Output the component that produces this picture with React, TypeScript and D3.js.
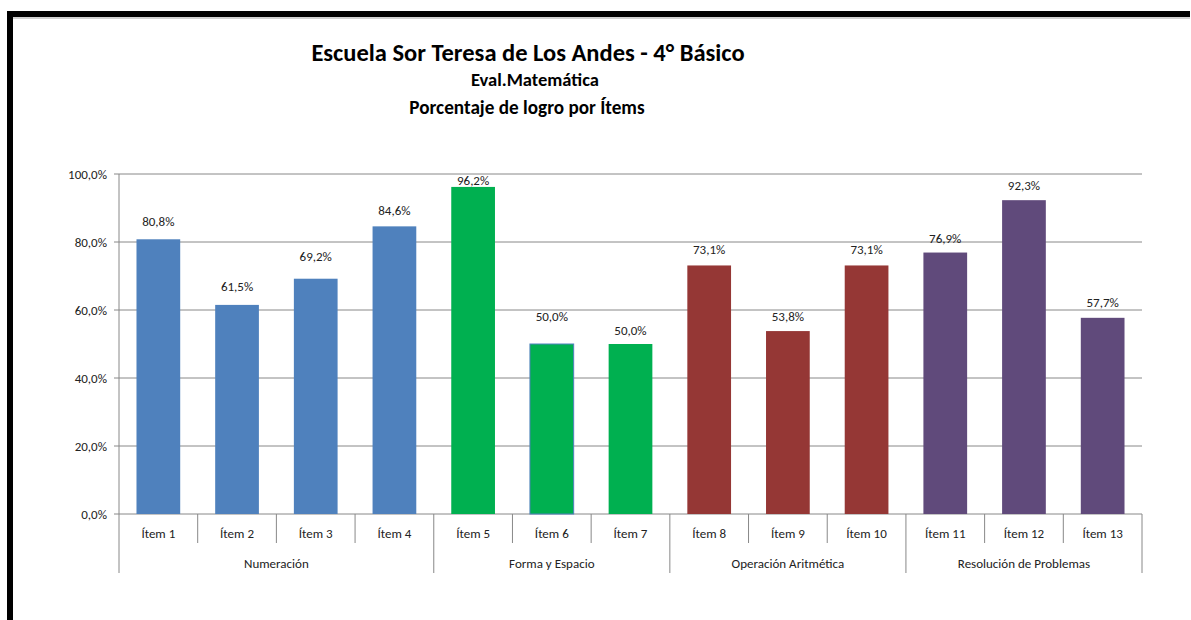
import React from "react";
import * as d3 from "d3";

const ITEMS = ["Ítem 1", "Ítem 2", "Ítem 3", "Ítem 4", "Ítem 5", "Ítem 6", "Ítem 7", "Ítem 8", "Ítem 9", "Ítem 10", "Ítem 11", "Ítem 12", "Ítem 13"];
const VALUES = [80.8, 61.5, 69.2, 84.6, 96.2, 50.0, 50.0, 73.1, 53.8, 73.1, 76.9, 92.3, 57.7];
const GROUPS = ["Numeración", "Forma y Espacio", "Operación Aritmética", "Resolución de Problemas"];
const GROUP_SIZES = [4, 3, 3, 3];
const Y_TICKS = [0, 20, 40, 60, 80, 100];

// colour per group, as in the source workbook
const GROUP_COLORS = ["#4F81BD", "#00B050", "#953735", "#604A7B"];
// labels were nudged by hand in the original, distance from bar top (px)
const LABEL_LIFT = [18, 18, 22, 16, 6, 28, 14, 16, 15, 16, 14, 15, 15];

const FONT = "Carlito, 'Open Sans', sans-serif";
const W = 1191;
const H = 620;
const margin = { top: 174, right: 49, bottom: 106, left: 119 };

const fmt = (v: number) => d3.format(".1f")(v).replace(".", ",") + "%";

export default function App() {
  const x = d3.scaleBand().domain(ITEMS).range([margin.left, W - margin.right]).padding(0);
  const y = d3.scaleLinear().domain([0, 100]).range([H - margin.bottom, margin.top]);
  const step = x.step();
  const barW = step / 1.8;
  const y0 = y(0);

  // group index for each item
  const groupOf: number[] = [];
  GROUP_SIZES.forEach((n, g) => d3.range(n).forEach(() => groupOf.push(g)));
  const groupStarts = d3.cumsum([0, ...GROUP_SIZES]);

  return (
    <svg width={W} height={H} style={{ position: "absolute", left: 0, top: 0, background: "#fff" }} fontFamily={FONT}>
      {/* frame */}
      <rect x={7} y={17} width={1183} height={2} fill="#d0d0d0" />
      <rect x={7} y={11} width={1183} height={6} fill="#000" />
      <rect x={7} y={11} width={6} height={H - 11} fill="#000" />

      {/* titles */}
      <g textAnchor="middle" fontWeight="bold" fill="#000">
        <text x={528} y={52} dy="0.35em" fontSize={24.5}>Escuela Sor Teresa de Los Andes - 4° Básico</text>
        <text x={535} y={80} dy="0.35em" fontSize={18.5}>Eval.Matemática</text>
        <text x={527} y={107} dy="0.35em" fontSize={19.2}>Porcentaje de logro por Ítems</text>
      </g>

      {/* grid + y axis */}
      {Y_TICKS.map((t) => (
        <g key={t}>
          <line x1={margin.left - 5} x2={W - margin.right} y1={y(t)} y2={y(t)} stroke="#888" strokeWidth={1} />
          <text x={107} y={y(t)} dy="0.35em" textAnchor="end" fontSize={13} fill="#222">
            {fmt(t)}
          </text>
        </g>
      ))}
      <line x1={margin.left} x2={margin.left} y1={margin.top} y2={y0} stroke="#888" />

      {/* bars */}
      {ITEMS.map((it, i) => {
        const cx = (x(it) as number) + step / 2;
        const v = VALUES[i];
        return (
          <g key={it}>
            <rect
              x={cx - barW / 2}
              y={y(v)}
              width={barW}
              height={y0 - y(v)}
              fill={GROUP_COLORS[groupOf[i]]}
              stroke={i === 5 ? "#4F81BD" : "none"}
              strokeWidth={1}
            />
            <text x={cx} y={y(v) - LABEL_LIFT[i]} dy="0.35em" textAnchor="middle" fontSize={13} fill="#222">
              {fmt(v)}
            </text>
            <text x={cx} y={533} dy="0.35em" textAnchor="middle" fontSize={13} fill="#222">
              {it}
            </text>
          </g>
        );
      })}

      {/* category axis ticks */}
      {d3.range(ITEMS.length + 1).map((k) => {
        const xx = k < ITEMS.length ? (x(ITEMS[k]) as number) : W - margin.right;
        const long = groupStarts.includes(k);
        return <line key={k} x1={xx} x2={xx} y1={y0} y2={long ? 573 : 543} stroke="#888" />;
      })}

      {/* group labels */}
      {GROUPS.map((g, gi) => {
        const a = margin.left + groupStarts[gi] * step;
        const b = margin.left + groupStarts[gi + 1] * step;
        return (
          <text key={g} x={(a + b) / 2} y={563} dy="0.35em" textAnchor="middle" fontSize={13} fill="#222">
            {g}
          </text>
        );
      })}
    </svg>
  );
}
